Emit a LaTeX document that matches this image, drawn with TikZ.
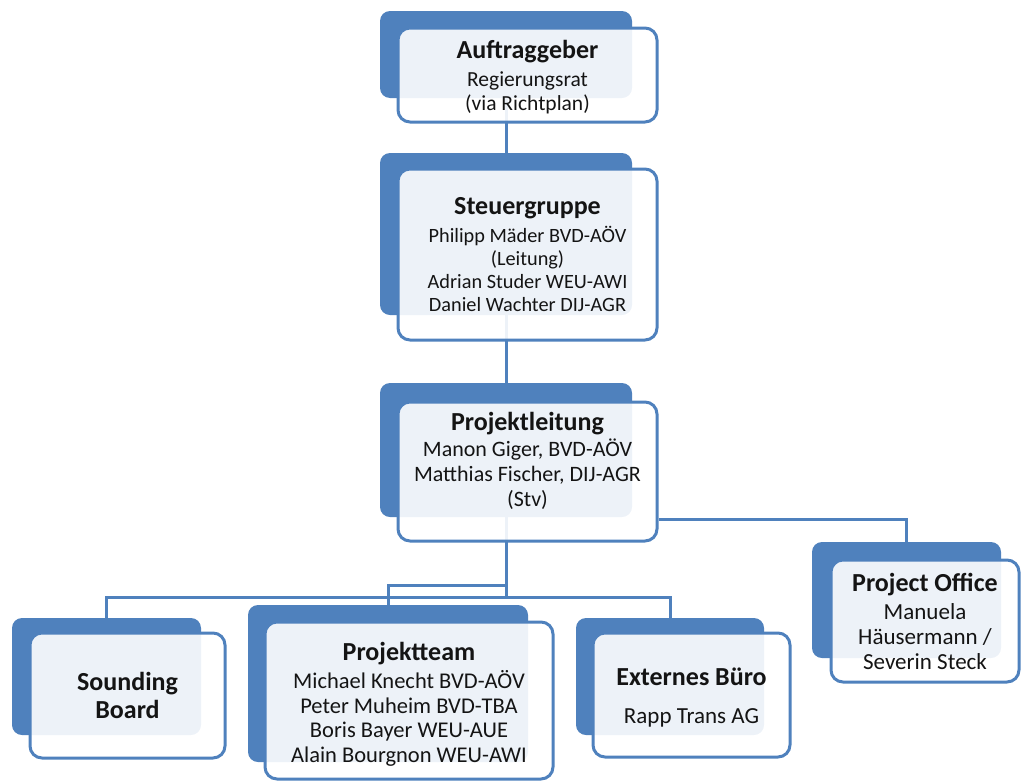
\documentclass[tikz,border=0pt]{standalone}
\usepackage{fontspec}
\setmainfont{Carlito}
\usetikzlibrary{fit}
\definecolor{ob}{HTML}{4F81BD}
\definecolor{tx}{HTML}{141414}
\pgfdeclarelayer{bg}
\pgfsetlayers{bg,main}
\tikzset{
  back/.style={fill=ob, draw=none, rounded corners=10pt, inner sep=0pt},
  front/.style={draw=ob, line width=3pt, fill=white, fill opacity=0.9, rounded corners=12pt, inner sep=0pt},
  txt/.style={align=center, inner sep=0pt, text=tx},
  conn/.style={draw=ob, line width=3pt},
}
\newcommand\ttl[1]{{\fontsize{26}{28}\selectfont\bfseries #1}}
\begin{document}
\begin{tikzpicture}[x=1pt,y=-1pt]
\useasboundingbox (0,0) rectangle (1022,782);
% Auftraggeber
\node[back, fit={(380,11)(632,98)}] (ab) {};
\node[front, fit={(398,28)(657,122)}] (af) {};
\node[txt, font=\fontsize{21.5}{24}\selectfont, yshift=-2pt] (at) at (af.center) {\ttl{Auftraggeber}\\[4pt] Regierungsrat\\ (via Richtplan)};
% Steuergruppe
\node[back, fit={(380,153)(632,315)}] (sb) {};
\node[front, fit={(398,169)(657,340)}] (sf) {};
\node[txt, font=\fontsize{20.3}{23}\selectfont] (st) at (sf.center) {\ttl{Steuergruppe}\\[5pt] Philipp Mäder BVD-AÖV\\ (Leitung)\\ Adrian Studer WEU-AWI\\ Daniel Wachter DIJ-AGR};
% Projektleitung
\node[back, fit={(380,383)(632,517)}] (pb) {};
\node[front, fit={(398,402)(657,541)}] (pf) {};
\node[txt, font=\fontsize{22}{25}\selectfont, yshift=11pt] (pt) at (pf.center) {\ttl{Projektleitung}\\[1pt] Manon Giger, BVD-AÖV\\ Matthias Fischer, DIJ-AGR\\ (Stv)};
% Sounding Board
\node[back, fit={(12,618)(201,735)}] (sob) {};
\node[front, fit={(30,633)(225,758)}] (sof) {};
\node[txt, font=\fontsize{26}{28}\selectfont] (sot) at (sof.center) {\ttl{Sounding}\\ \ttl{Board}};
% Projektteam
\node[back, fit={(248,605)(528,762)}] (tb) {};
\node[front, fit={(265,622)(553,779)}] (tf) {};
\node[txt, font=\fontsize{22.5}{24.5}\selectfont, yshift=-4pt] (tt) at (tf.center) {\ttl{Projektteam}\\[3.5pt] Michael Knecht BVD-AÖV\\ Peter Muheim BVD-TBA\\ Boris Bayer WEU-AUE\\ Alain Bourgnon WEU-AWI};
% Externes Buero
\node[back, fit={(576,618)(764,735)}] (eb) {};
\node[front, fit={(593,633)(790,757)}] (ef) {};
\node[txt, font=\fontsize{23}{26}\selectfont, yshift=-3pt] (et) at (ef.center) {\ttl{Externes Büro}\\[12pt] Rapp Trans AG};
% Project Office
\node[back, fit={(812,542)(1001,658)}] (ob) {};
\node[front, fit={(831,560)(1019,682)}] (of) {};
\node[txt, font=\fontsize{23}{25}\selectfont] (ot) at (of.center) {\ttl{Project Office}\\[3pt] Manuela\\ Häusermann /\\ Severin Steck};
% connectors
\coordinate (bus) at (0,597);
\coordinate (br) at (0,585);
\coordinate (po) at (0,519);
\begin{pgfonlayer}{bg}
\draw[conn] (ab.south) -- (sb.north);
\draw[conn] (sb.south) -- (pb.north);
\draw[conn] (pb.south) -- (pb.south |- bus) -| (sob.north);
\draw[conn] (pb.south |- bus) -| (eb.north);
\draw[conn] (pb.south |- br) -| (tb.north);
\draw[conn] (pf.east |- po) -| (ob.north);
\end{pgfonlayer}
\end{tikzpicture}
\end{document}
